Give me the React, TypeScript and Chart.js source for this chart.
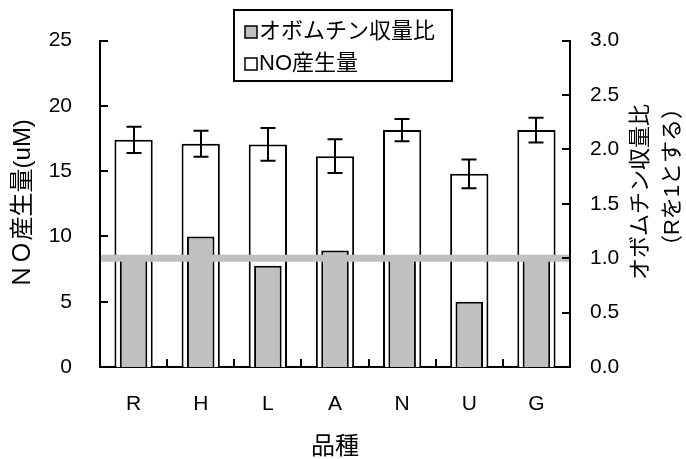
import { useEffect, useRef } from 'react';
import { Chart, registerables } from 'chart.js';

Chart.register(...registerables);

// Breeds on the x axis
const categories = ['R', 'H', 'L', 'A', 'N', 'U', 'G'];
// NO production (uM), left axis, with ± error
const noProduction = [17.4, 17.1, 17.05, 16.15, 18.15, 14.8, 18.15];
const noError = [1.0, 1.0, 1.25, 1.3, 0.85, 1.1, 0.95];
// Ovomucin yield ratio (R = 1), right axis
const ovomucinRatio = [1.0, 1.2, 0.93, 1.07, 1.0, 0.6, 1.0];
// Reference level of the ratio
const referenceRatio = 1.0;

const leftTicks = [0, 5, 10, 15, 20, 25];
const rightTicks = [0, 0.5, 1.0, 1.5, 2.0, 2.5, 3.0];
const rightTickLabels = ['0.0', '0.5', '1.0', '1.5', '2.0', '2.5', '3.0'];

const NO_LABEL = 'NO産生量';
const OVO_LABEL = 'オボムチン収量比';
const X_TITLE = '品種';
const LEFT_TITLE = 'ＮＯ産生量(uM)';
const RIGHT_TITLE = ['オボムチン収量比', '（Rを1とする）'];

const FONT = '"Liberation Sans", Arial, "Noto Sans CJK JP", sans-serif';
const GRAY = '#c0c0c0';

// Reference line and error bars, drawn over the bars
const overlayPlugin = {
  id: 'overlay',
  afterDatasetsDraw(chart: any) {
    const { ctx, chartArea, scales } = chart;
    ctx.save();
    // thick gray reference line at ratio 1.0
    const yRef = scales.y1.getPixelForValue(referenceRatio);
    ctx.strokeStyle = GRAY;
    ctx.lineWidth = 7;
    ctx.beginPath();
    ctx.moveTo(chartArea.left + 1, yRef);
    ctx.lineTo(chartArea.right - 1, yRef);
    ctx.stroke();

    // error bars on the NO bars
    const meta = chart.getDatasetMeta(1);
    ctx.strokeStyle = '#000';
    ctx.lineWidth = 2;
    meta.data.forEach((bar: any, i: number) => {
      const x = Math.round(bar.x);
      const hi = scales.y.getPixelForValue(noProduction[i] + noError[i]);
      const lo = scales.y.getPixelForValue(noProduction[i] - noError[i]);
      const cap = 7.5;
      ctx.beginPath();
      ctx.moveTo(x, hi);
      ctx.lineTo(x, lo);
      ctx.moveTo(x - cap, hi);
      ctx.lineTo(x + cap, hi);
      ctx.moveTo(x - cap, lo);
      ctx.lineTo(x + cap, lo);
      ctx.stroke();
    });
    ctx.restore();
  },
  afterDraw(chart: any) {
    const { ctx, chartArea, scales } = chart;
    ctx.save();
    ctx.strokeStyle = '#000';
    ctx.lineWidth = 2;
    const tl = 8;

    // inward tick marks on both value axes
    ctx.beginPath();
    scales.y.ticks.forEach((t: any) => {
      const p = Math.round(scales.y.getPixelForValue(t.value));
      ctx.moveTo(chartArea.left, p);
      ctx.lineTo(chartArea.left + tl, p);
    });
    scales.y1.ticks.forEach((t: any) => {
      const p = Math.round(scales.y1.getPixelForValue(t.value));
      ctx.moveTo(chartArea.right, p);
      ctx.lineTo(chartArea.right - tl, p);
    });
    // tick marks between categories
    for (let i = 0; i < categories.length - 1; i++) {
      const p = Math.round((scales.x.getPixelForValue(i) + scales.x.getPixelForValue(i + 1)) / 2);
      ctx.moveTo(p, chartArea.bottom);
      ctx.lineTo(p, chartArea.bottom - tl);
    }
    ctx.stroke();

    // boxed legend
    const items = [
      { label: chart.data.datasets[0].label, fill: GRAY },
      { label: chart.data.datasets[1].label, fill: '#fff' },
    ];
    ctx.font = `22px ${FONT}`;
    const tw = Math.max(...items.map((it) => ctx.measureText(it.label).width));
    const boxW = Math.round(tw + 42);
    const boxL = Math.round(chart.width / 2 - boxW / 2);
    const boxT = 10;
    const boxH = 71;
    ctx.fillStyle = '#fff';
    ctx.fillRect(boxL, boxT, boxW, boxH);
    ctx.lineWidth = 2;
    ctx.strokeRect(boxL, boxT, boxW, boxH);
    items.forEach((it, i) => {
      const cy = boxT + 22 + i * 32;
      ctx.fillStyle = it.fill;
      ctx.fillRect(boxL + 11, cy - 6, 12, 12);
      ctx.lineWidth = 1.5;
      ctx.strokeRect(boxL + 11, cy - 6, 12, 12);
      ctx.fillStyle = '#000';
      ctx.textAlign = 'left';
      ctx.textBaseline = 'middle';
      ctx.fillText(it.label, boxL + 25, cy);
    });

    // right axis title, two lines reading upward
    ctx.font = `22px ${FONT}`;
    ctx.fillStyle = '#000';
    ctx.textAlign = 'center';
    ctx.textBaseline = 'middle';
    const titlePos = [
      { x: 641, y: 192 },
      { x: 673, y: 177 },
    ];
    RIGHT_TITLE.forEach((line, i) => {
      ctx.save();
      ctx.translate(titlePos[i].x, titlePos[i].y);
      ctx.rotate(-Math.PI / 2);
      ctx.fillText(line, 0, 0);
      ctx.restore();
    });
    ctx.restore();
  },
};

export default function App() {
  const canvasRef = useRef<HTMLCanvasElement>(null);

  useEffect(() => {
    const canvas = canvasRef.current;
    if (!canvas) return;
    const axisBorder = { display: true, color: '#000', width: 2 };
    const noGrid = { display: false, drawTicks: false };
    const tickFont = { family: FONT, size: 21 };
    const chart = new Chart(canvas, {
      type: 'bar',
      data: {
        labels: categories,
        datasets: [
          {
            label: OVO_LABEL,
            data: ovomucinRatio,
            yAxisID: 'y1',
            backgroundColor: GRAY,
            borderColor: '#000',
            borderWidth: 2,
            grouped: false,
            barPercentage: 0.41,
            categoryPercentage: 1,
            order: 0,
          },
          {
            label: NO_LABEL,
            data: noProduction,
            yAxisID: 'y',
            backgroundColor: '#fff',
            borderColor: '#000',
            borderWidth: 2,
            grouped: false,
            barPercentage: 0.57,
            categoryPercentage: 1,
            order: 1,
          },
        ],
      },
      options: {
        responsive: false,
        animation: false,
        devicePixelRatio: 1,
        layout: { padding: { top: 25, left: 0, right: 0, bottom: 0 } },
        plugins: { legend: { display: false }, tooltip: { enabled: false } },
        scales: {
          x: {
            grid: noGrid,
            border: axisBorder,
            ticks: { color: '#000', font: tickFont, padding: 25 },
            title: {
              display: true,
              text: X_TITLE,
              color: '#000',
              font: { family: FONT, size: 24, lineHeight: 1 },
              padding: { top: 0, bottom: 0 },
            },
            afterFit: (s: any) => {
              s.height = 92;
            },
          },
          y: {
            position: 'left',
            min: 0,
            max: 25,
            grid: noGrid,
            border: axisBorder,
            afterBuildTicks: (s: any) => {
              s.ticks = leftTicks.map((v) => ({ value: v }));
            },
            ticks: { color: '#000', font: tickFont, padding: 28 },
            title: {
              display: true,
              text: LEFT_TITLE,
              color: '#000',
              font: { family: FONT, size: 24, lineHeight: 1 },
              padding: { top: 11, bottom: 0 },
            },
            afterFit: (s: any) => {
              s.width = 100;
            },
          },
          y1: {
            position: 'right',
            min: 0,
            max: 3,
            grid: noGrid,
            border: axisBorder,
            afterBuildTicks: (s: any) => {
              s.ticks = rightTicks.map((v) => ({ value: v }));
            },
            ticks: {
              color: '#000',
              font: tickFont,
              padding: 20,
              callback: (_v: any, i: number) => rightTickLabels[i],
            },
            afterFit: (s: any) => {
              s.width = 116;
            },
          },
        },
      } as any,
      plugins: [overlayPlugin],
    });
    return () => chart.destroy();
  }, []);

  return (
    <div style={{ position: 'fixed', left: 0, top: 0, width: 686, height: 459, background: '#fff' }}>
      <canvas ref={canvasRef} width={686} height={459} style={{ display: 'block' }} />
    </div>
  );
}
